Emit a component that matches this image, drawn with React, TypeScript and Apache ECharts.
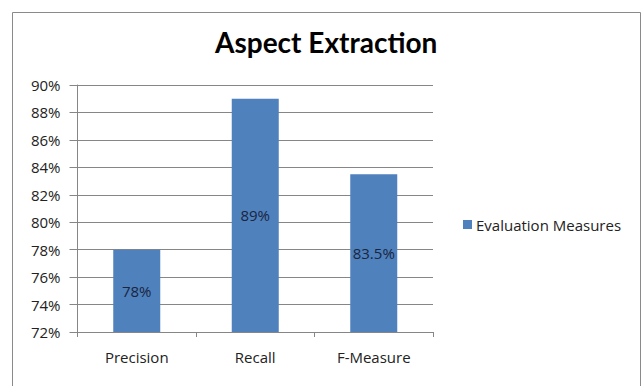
import React, { useEffect, useRef } from "react";
import * as echarts from "echarts";

const categories = ["Precision", "Recall", "F-Measure"];
const values = [78, 89, 83.5];
const valueLabels = ["78%", "89%", "83.5%"];
const seriesName = "Evaluation Measures";
const titleText = "Aspect Extraction";

export default function App() {
  const ref = useRef<HTMLDivElement>(null);
  useEffect(() => {
    if (!ref.current) return;
    const chart = echarts.init(ref.current, null, { renderer: "svg" });
    const titleFont = "Lato, 'Open Sans', sans-serif";
    const font = "'Open Sans', 'Noto Sans', sans-serif";
    chart.setOption({
      animation: false,
      backgroundColor: "#ffffff",
      title: {
        text: titleText,
        left: 215,
        top: 28,
        padding: 0,
        textStyle: { fontFamily: titleFont, fontWeight: "bold", fontSize: 28, color: "#000" },
      },
      legend: {
        data: [seriesName],
        left: 463,
        top: 217,
        padding: 0,
        orient: "vertical",
        itemWidth: 9,
        itemHeight: 9,
        itemGap: 6,
        icon: "rect",
        textStyle: { fontFamily: font, fontSize: 15, color: "#222", padding: [0, 0, 0, -1] },
      },
      grid: { left: 77.5, right: 211, top: 85, bottom: 54 },
      xAxis: {
        type: "category",
        data: categories,
        axisLine: { lineStyle: { color: "#868686" } },
        axisTick: { show: true, alignWithLabel: false, length: 5, lineStyle: { color: "#868686" } },
        axisLabel: { fontFamily: font, fontSize: 15, color: "#222", margin: 17 },
      },
      yAxis: {
        type: "value",
        min: 72,
        max: 90,
        interval: 2,
        axisLine: { show: true, lineStyle: { color: "#868686" } },
        axisTick: { show: true, length: 8, lineStyle: { color: "#868686" } },
        splitLine: { lineStyle: { color: "#868686" } },
        axisLabel: { fontFamily: font, fontSize: 15, color: "#222", margin: 17, formatter: "{value}%" },
      },
      series: [
        {
          name: seriesName,
          type: "bar",
          data: values,
          barWidth: 47,
          itemStyle: { color: "#4f81bd" },
          label: {
            show: true,
            position: "inside",
            fontFamily: font,
            fontSize: 15,
            color: "#1a2540",
            formatter: (p: any) => valueLabels[p.dataIndex],
          },
        },
      ],
      graphic: [
        {
          type: "rect",
          shape: { x: 12.5, y: 12.5, width: 628, height: 380 },
          style: { fill: "none", stroke: "#8a8a8a", lineWidth: 1 },
          silent: true,
          z: 100,
        },
      ],
    });
    return () => chart.dispose();
  }, []);
  return (
    <div
      ref={ref}
      style={{ position: "absolute", left: 0, top: 0, width: 644, height: 386 }}
    />
  );
}
